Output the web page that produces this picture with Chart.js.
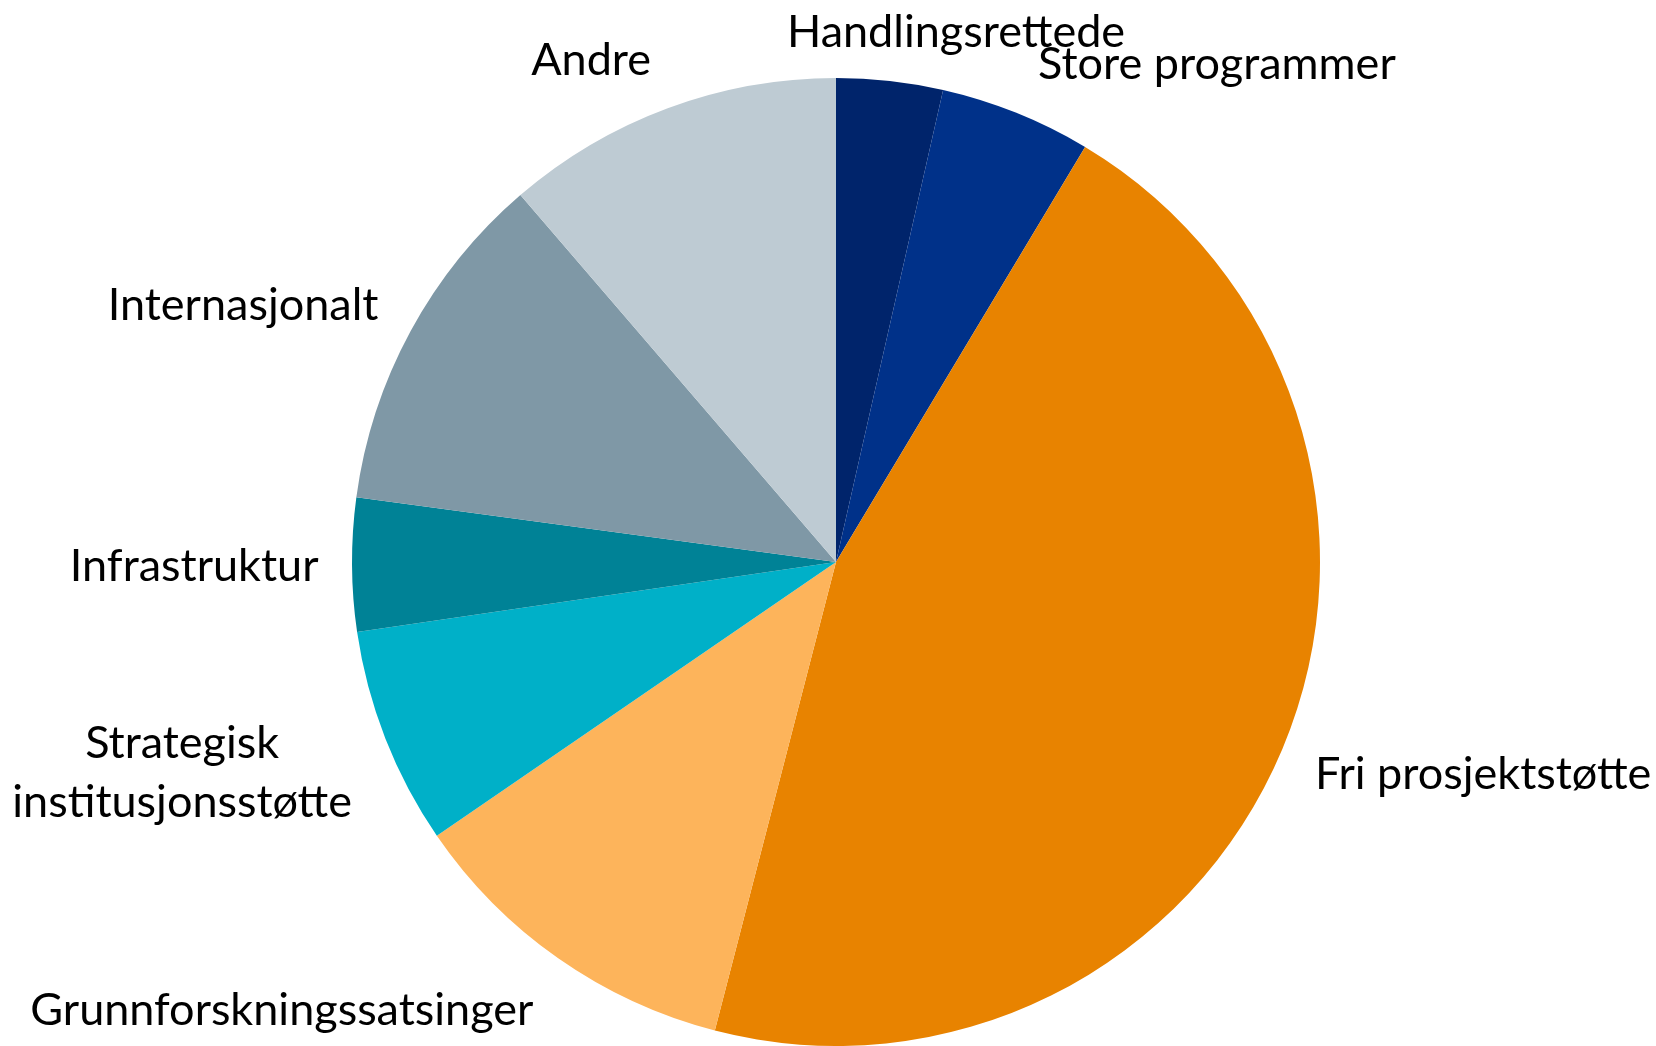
<!DOCTYPE html>
<html>
<head>
<meta charset="utf-8">
<script src="https://cdn.jsdelivr.net/npm/chart.js@4"></script>
<style>
  html, body { margin: 0; padding: 0; background: #ffffff; }
  #wrap { width: 1656px; height: 1046px; }
</style>
</head>
<body>
<div id="wrap"><canvas id="pie"></canvas></div>
<script>
// data
const kategorier = [
  "Handlingsrettede",
  "Store programmer",
  "Fri prosjektstøtte",
  "Grunnforskningssatsinger",
  "Strategisk\ninstitusjonsstøtte",
  "Infrastruktur",
  "Internasjonalt",
  "Andre",
];
const andel = [3.55, 5.05, 45.4, 11.4, 7.25, 4.45, 11.55, 11.3];
const farger = [
  "#00246B", "#003189", "#E88300", "#FDB45B",
  "#00B0C8", "#008296", "#7F98A6", "#BECBD3",
];

// label placement, in units of the pie radius, from the centre
const labelPos = [
  [0.248, -1.095], [0.787, -1.027], [1.337, 0.438], [-1.145, 0.926],
  [-1.351, 0.436], [-1.326, 0.010], [-1.225, -0.529], [-0.506, -1.037],
];

const fontLabel = "45px Lato";

const etiketter = {
  id: "etiketter",
  afterDatasetsDraw(chart) {
    const c = chart.ctx;
    const meta = chart.getDatasetMeta(0);
    const arc0 = meta.data[0];
    const cx = arc0.x, cy = arc0.y, r = arc0.outerRadius;
    c.save();
    c.font = fontLabel;
    c.fillStyle = "#000000";
    c.textAlign = "center";
    c.textBaseline = "middle";
    kategorier.forEach((txt, i) => {
      const lines = txt.split("\n");
      const x = cx + labelPos[i][0] * r;
      const y = cy + labelPos[i][1] * r;
      const lh = 59;
      lines.forEach((l, j) => {
        c.fillText(l, x, y + (j - (lines.length - 1) / 2) * lh);
      });
    });
    c.restore();
  },
};

new Chart(document.getElementById("pie"), {
  type: "pie",
  data: {
    labels: kategorier,
    datasets: [{
      data: andel,
      backgroundColor: farger,
      borderWidth: 0,
    }],
  },
  options: {
    responsive: true,
    maintainAspectRatio: false,
    animation: false,
    layout: { padding: { top: 78, bottom: 0, left: 352, right: 336 } },
    plugins: {
      legend: { display: false },
      tooltip: { enabled: false },
    },
  },
  plugins: [etiketter],
});
</script>
</body>
</html>
